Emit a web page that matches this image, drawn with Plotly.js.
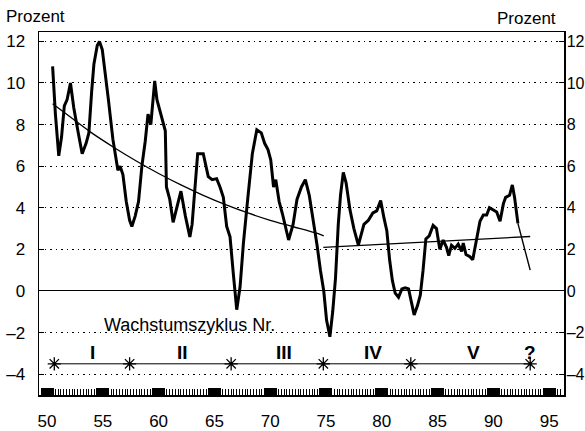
<!DOCTYPE html>
<html><head><meta charset="utf-8">
<script src="https://cdn.plot.ly/plotly-3.0.1.min.js"></script>
<style>html,body{margin:0;padding:0;background:#fff}#chart{width:585px;height:431px}</style>
</head><body><div id="chart"></div>
<script>
// Main series: year (19xx) and growth in percent
const years = [50.5,50.75,51.05,51.3,51.55,51.8,52.1,52.4,52.8,53.15,53.5,53.75,54.0,54.2,54.5,54.7,54.95,55.2,55.5,55.9,56.2,56.35,56.55,56.8,57.1,57.4,57.6,57.9,58.2,58.5,58.8,59.05,59.3,59.45,59.65,59.85,60.1,60.45,60.6,60.7,61.0,61.3,61.65,62.0,62.4,62.8,63.0,63.25,63.5,64.0,64.45,64.8,65.2,65.5,65.8,66.1,66.4,66.7,67.0,67.3,67.6,68.0,68.4,68.8,69.2,69.5,69.8,70.05,70.3,70.5,70.8,71.1,71.3,71.65,72.05,72.4,72.8,73.15,73.5,73.9,74.2,74.5,74.8,75.05,75.35,75.6,75.85,76.1,76.3,76.55,76.8,77.15,77.5,77.9,78.2,78.4,78.8,79.2,79.55,79.9,80.2,80.45,80.7,80.95,81.2,81.5,81.8,82.1,82.4,82.6,82.9,83.2,83.45,83.7,83.95,84.25,84.6,84.9,85.2,85.5,85.8,86.0,86.25,86.55,86.85,87.15,87.3,87.55,87.9,88.15,88.5,88.8,89.1,89.4,89.65,90.0,90.3,90.6,90.9,91.1,91.45,91.7,91.9,92.2];
const growth = [10.8,8.5,6.5,7.4,8.9,9.2,10.0,8.8,7.6,6.6,7.1,7.6,9.6,10.9,11.8,12.0,11.6,10.6,9.2,7.3,6.2,5.8,6.0,5.6,4.3,3.4,3.1,3.6,4.3,6.0,7.2,8.5,8.0,9.0,10.1,9.2,8.7,8.0,7.7,5.0,4.4,3.3,4.0,4.8,3.6,2.6,3.2,5.0,6.6,6.6,5.5,5.35,5.4,5.0,4.5,3.1,2.6,0.8,-0.9,0.2,2.3,4.5,6.6,7.75,7.6,7.1,6.8,6.3,5.0,5.35,4.3,3.7,3.2,2.45,3.2,4.4,5.0,5.35,4.6,3.3,2.2,1.0,0.0,-1.4,-2.2,-1.0,0.6,3.2,4.6,5.7,5.2,3.9,3.0,2.2,2.8,3.2,3.4,3.75,3.85,4.35,3.5,2.9,1.5,0.5,-0.1,-0.3,0.1,0.15,0.1,-0.4,-1.15,-0.7,-0.2,1.0,2.5,2.65,3.15,3.0,2.0,2.45,2.1,1.7,2.2,2.05,2.25,1.9,2.3,1.75,1.65,1.5,2.6,3.35,3.65,3.65,4.0,3.9,3.8,3.35,4.2,4.5,4.6,5.1,4.5,3.25];
const forecastYears = [92.2, 93.3];
const forecastValues = [3.25, 1.0];

// Trend lines
const trend1Years = [50.5,52,54,56,58,60,62,64,66,68,70,72,74,74.8];
const trend1Values = [9.0,8.4,7.6,6.9,6.25,5.65,5.1,4.6,4.15,3.75,3.4,3.1,2.8,2.65];
const trend2Years = [74.76, 93.3];
const trend2Values = [2.1, 2.62];

// Growth cycles
const cycleYears = [50.65, 57.4, 66.5, 74.76, 82.6, 93.3];
const cycleLevel = [-3.5, -3.5, -3.5, -3.5, -3.5, -3.5];
const cycleLabels = ['I', 'II', 'III', 'IV', 'V', '?'];
const cycleLabelYears = [54.1, 62.1, 71.2, 79.2, 88.2, 93.3];
const cycleLabelLevel = -2.95;
const cycleTitle = 'Wachstumszyklus Nr.';

const yTicks = [-4, -2, 0, 2, 4, 6, 8, 10, 12];
const xTicks = [50, 55, 60, 65, 70, 75, 80, 85, 90, 95];

const FONT = 'Liberation Sans, Arial, Helvetica, sans-serif';
const BLACK = '#000';

const traces = [
  {x: trend1Years, y: trend1Values, mode: 'lines', line: {color: BLACK, width: 1.3, shape: 'spline'}, hoverinfo: 'skip'},
  {x: trend2Years, y: trend2Values, mode: 'lines', line: {color: BLACK, width: 1.3}, hoverinfo: 'skip', yaxis: 'y2'},
  {x: cycleYears, y: cycleLevel, mode: 'lines+markers', line: {color: BLACK, width: 1},
   marker: {symbol: 'asterisk-open', size: 11, color: BLACK, line: {color: BLACK, width: 1.3}}, hoverinfo: 'skip'},
  {x: years, y: growth, mode: 'lines', line: {color: BLACK, width: 3, shape: 'linear'}},
  {x: forecastYears, y: forecastValues, mode: 'lines', line: {color: BLACK, width: 1.4}}
];

const annotations = [
  {xref: 'paper', yref: 'paper', x: -0.066, y: 1.042, xanchor: 'left', yanchor: 'middle', text: 'Prozent', showarrow: false, font: {family: FONT, size: 17, color: BLACK}},
  {xref: 'paper', yref: 'paper', x: 0.988, y: 1.038, xanchor: 'right', yanchor: 'middle', text: 'Prozent', showarrow: false, font: {family: FONT, size: 17, color: BLACK}},
  {xref: 'x', yref: 'y', x: 62.8, y: -1.63, text: cycleTitle, showarrow: false, font: {family: FONT, size: 18, color: BLACK}}
];
cycleLabels.forEach((t, i) => {
  annotations.push({xref: 'x', yref: 'y', x: cycleLabelYears[i], y: cycleLabelLevel, text: '<b>' + t + '</b>', showarrow: false,
    font: {family: FONT, size: 19, color: BLACK}});
});

const layout = {
  width: 585, height: 431,
  margin: {l: 39, r: 21, t: 32, b: 36, pad: 0},
  paper_bgcolor: '#fff', plot_bgcolor: '#fff',
  showlegend: false,
  font: {family: FONT, size: 17, color: BLACK},
  xaxis: {
    range: [49.28, 96.33], tickmode: 'array', tickvals: xTicks, ticktext: xTicks.map(String),
    showgrid: false, zeroline: false, showline: true, linecolor: BLACK, linewidth: 1.5, mirror: true,
    ticks: 'inside', ticklen: 7, tickwidth: 13, tickcolor: BLACK, ticklabelstandoff: 10,
    minor: {dtick: 0.25, tick0: 50, ticks: 'inside', ticklen: 6, tickwidth: 1, tickcolor: BLACK, showgrid: false},
    tickfont: {family: FONT, size: 17, color: BLACK}
  },
  yaxis: {
    range: [-5.0, 12.45], tickmode: 'array', tickvals: yTicks, ticktext: yTicks.map(v => v < 0 ? '\u2013' + Math.abs(v) : String(v)),
    showgrid: true, gridcolor: BLACK, gridwidth: 1, griddash: '1.5px,4px',
    zeroline: true, zerolinecolor: BLACK, zerolinewidth: 1,
    showline: true, linecolor: BLACK, linewidth: 1.5,
    ticks: 'inside', ticklen: 5, tickwidth: 1, tickcolor: BLACK, ticklabelstandoff: 9,
    tickfont: {family: FONT, size: 17, color: BLACK}
  },
  yaxis2: {
    range: [-5.0, 12.45], overlaying: 'y', side: 'right', tickmode: 'array', tickvals: yTicks,
    ticktext: yTicks.map(v => v < 0 ? '\u2013' + Math.abs(v) : String(v)),
    showgrid: false, zeroline: false, showline: true, linecolor: BLACK, linewidth: 1.5,
    ticks: 'inside', ticklen: 5, tickwidth: 1, tickcolor: BLACK, ticklabelstandoff: -2,
    tickfont: {family: FONT, size: 16, color: BLACK}
  },
  annotations: annotations
};

Plotly.newPlot('chart', traces, layout, {staticPlot: true, displayModeBar: false});
</script>
</body></html>
